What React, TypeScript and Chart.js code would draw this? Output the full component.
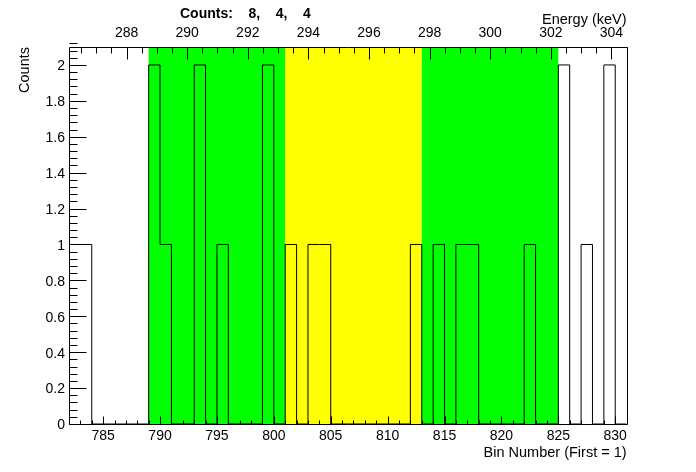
import { useEffect, useRef } from "react";
import { Chart, registerables } from "chart.js";

Chart.register(...registerables);

// ---- data ----
const firstBinEdge = 782;
const lastBinEdge = 831;
const binCounts = [
  1, 1, 0, 0, 0, 0, 0,
  2, 1, 0, 0, 2, 0, 1, 0, 0, 0, 2, 0,
  1, 0, 1, 1, 0, 0, 0, 0, 0, 0, 0, 1,
  0, 1, 0, 1, 1, 0, 0, 0, 0, 1, 0, 0,
  2, 0, 1, 0, 2, 0,
];
const regionStarts = [789, 801, 813];
const regionEnds = [801, 813, 825];
const regionColors = ["#00ff00", "#ffff00", "#00ff00"];
const regionCounts = [8, 4, 4];

const binTicks = [785, 790, 795, 800, 805, 810, 815, 820, 825, 830];
const energyTicks = [288, 290, 292, 294, 296, 298, 300, 302, 304];
const countTicks = [0, 0.2, 0.4, 0.6, 0.8, 1, 1.2, 1.4, 1.6, 1.8, 2];
const countMax = 2.1;
const energyMin = 286.1;
const energyMax = 304.5;

const FONT = "'Liberation Sans', Arial, Helvetica, sans-serif";

const rootFrame = {
  id: "rootFrame",
  beforeDatasetsDraw(chart: any) {
    const { ctx, chartArea: a, scales } = chart;
    const x = scales.x;
    ctx.save();
    regionStarts.forEach((s, i) => {
      const x0 = x.getPixelForValue(s);
      const x1 = x.getPixelForValue(regionEnds[i]);
      ctx.fillStyle = regionColors[i];
      ctx.fillRect(x0, a.top, x1 - x0, a.bottom - a.top);
    });
    ctx.restore();
  },
  afterDatasetsDraw(chart: any) {
    const { ctx, chartArea: a, scales } = chart;
    const x = scales.x;
    const xt = scales.xTop;
    const y = scales.y;
    const L = Math.round(a.left) + 0.5;
    const R = Math.round(a.right) + 0.5;
    const T = Math.round(a.top) + 0.5;
    const B = Math.round(a.bottom) + 0.5;
    ctx.save();
    ctx.strokeStyle = "#000";
    ctx.lineWidth = 1;
    ctx.beginPath();
    // frame
    ctx.rect(L, T, R - L, B - T);
    // y ticks
    for (let i = 0; i <= Math.round(countMax / 0.04); i++) {
      const v = i * 0.04;
      const major = i % 5 === 0;
      const py = Math.round(y.getPixelForValue(v)) + 0.5;
      ctx.moveTo(L, py);
      ctx.lineTo(L + (major ? 17 : 8), py);
    }
    // bottom ticks
    for (let v = firstBinEdge; v <= lastBinEdge; v++) {
      const major = binTicks.includes(v);
      const px = Math.round(x.getPixelForValue(v)) + 0.5;
      ctx.moveTo(px, B);
      ctx.lineTo(px, B - (major ? 8 : 4));
    }
    // top ticks
    for (let i = 0; ; i++) {
      const v = Math.ceil(energyMin * 2) / 2 + i * 0.5;
      if (v > energyMax + 1e-9) break;
      const major = energyTicks.includes(v);
      const px = Math.round(xt.getPixelForValue(v)) + 0.5;
      ctx.moveTo(px, T);
      ctx.lineTo(px, T + (major ? 12 : 6));
    }
    ctx.stroke();
    ctx.restore();
  },
  afterDraw(chart: any) {
    const { ctx } = chart;
    ctx.save();
    ctx.fillStyle = "#000";
    ctx.font = `bold 14px ${FONT}`;
    ctx.textAlign = "left";
    ctx.textBaseline = "middle";
    ctx.fillText(`Counts:    ${regionCounts.join(",    ")}`, 180, 14);
    ctx.restore();
  },
};

export default function App() {
  const ref = useRef<HTMLCanvasElement>(null);
  useEffect(() => {
    document.body.style.margin = "0";
    const points: { x: number; y: number }[] = [{ x: firstBinEdge, y: 0 }];
    binCounts.forEach((c, i) => points.push({ x: firstBinEdge + i, y: c }));
    points.push({ x: lastBinEdge, y: binCounts[binCounts.length - 1] });
    points.push({ x: lastBinEdge, y: 0 });

    const tickFont = { family: FONT, size: 14 };
    const titleFont = { family: FONT, size: 14.5 };

    const chart = new Chart(ref.current!, {
      type: "line",
      data: {
        datasets: [
          {
            data: points,
            borderColor: "#000",
            borderWidth: 1,
            pointRadius: 0,
            stepped: "before",
            fill: false,
            tension: 0,
            xAxisID: "x",
            yAxisID: "y",
          },
        ],
      },
      options: {
        animation: false,
        responsive: false,
        events: [],
        layout: { padding: { left: 0, top: 0, right: 69.4, bottom: 0 } },
        plugins: {
          legend: { display: false },
          tooltip: { enabled: false },
          title: { display: false },
        },
        scales: {
          x: {
            type: "linear",
            position: "bottom",
            min: firstBinEdge,
            max: lastBinEdge,
            afterBuildTicks: (s: any) => {
              s.ticks = binTicks.map((v) => ({ value: v }));
            },
            afterFit: (s: any) => {
              s.height = 48;
            },
            grid: { display: false, drawTicks: false },
            border: { display: false },
            ticks: {
              color: "#000",
              font: tickFont,
              padding: 4,
              maxRotation: 0,
              autoSkip: false,
              callback: (v: any) => String(v),
            },
            title: {
              display: true,
              text: "Bin Number (First = 1)",
              align: "end",
              color: "#000",
              font: titleFont,
              padding: { top: 0, bottom: 10.5 },
            },
          },
          xTop: {
            type: "linear",
            position: "top",
            min: energyMin,
            max: energyMax,
            afterBuildTicks: (s: any) => {
              s.ticks = energyTicks.map((v) => ({ value: v }));
            },
            afterFit: (s: any) => {
              s.height = 47;
            },
            grid: { display: false, drawTicks: false },
            border: { display: false },
            ticks: {
              color: "#000",
              font: tickFont,
              padding: 5,
              maxRotation: 0,
              autoSkip: false,
              callback: (v: any) => String(v),
            },
            title: {
              display: true,
              text: "Energy (keV)",
              align: "end",
              color: "#000",
              font: titleFont,
              padding: { top: 11, bottom: 0 },
            },
          },
          y: {
            type: "linear",
            position: "left",
            min: 0,
            max: countMax,
            afterBuildTicks: (s: any) => {
              s.ticks = countTicks.map((v) => ({ value: v }));
            },
            afterFit: (s: any) => {
              s.width = 69;
            },
            grid: { display: false, drawTicks: false },
            border: { display: false },
            ticks: {
              color: "#000",
              font: tickFont,
              padding: 4,
              labelOffset: 1.5,
              autoSkip: false,
              callback: (v: any) => String(Math.round(Number(v) * 10) / 10),
            },
            title: {
              display: true,
              text: "Counts",
              align: "end",
              color: "#000",
              font: titleFont,
              padding: { top: 16, bottom: 0 },
            },
          },
        },
      } as any,
      plugins: [rootFrame],
    });
    return () => chart.destroy();
  }, []);
  return <canvas ref={ref} width={696} height={472} style={{ display: "block" }} />;
}
